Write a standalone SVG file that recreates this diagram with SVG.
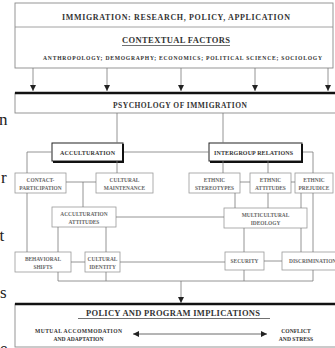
<svg xmlns="http://www.w3.org/2000/svg" width="335" height="348" viewBox="0 0 335 348">
<defs>
<style>
.t{font-family:"Liberation Serif","Times New Roman",serif;font-weight:bold;fill:#333;text-anchor:middle}
.s{font-family:"Liberation Serif","Times New Roman",serif;font-weight:bold;fill:#666;text-anchor:middle;font-size:5.4px}
.box{fill:#fff;stroke:#9a9a9a;stroke-width:0.8}
.big{fill:#fff;stroke:#8a8a8a;stroke-width:0.9}
.ln{fill:none;stroke:#7a7a7a;stroke-width:0.8}
.thick{stroke:#111;stroke-width:2.6}
.page{font-family:"Liberation Serif","Times New Roman",serif;font-size:17px;fill:#222}
</style>
<marker id="ah" viewBox="0 0 6 6" refX="6" refY="3" markerWidth="6" markerHeight="6" markerUnits="userSpaceOnUse" orient="auto">
<path d="M0,0 L6,3 L0,6 z" fill="#222"/>
</marker>
<marker id="ah2" viewBox="0 0 6 6" refX="0" refY="3" markerWidth="6" markerHeight="6" markerUnits="userSpaceOnUse" orient="auto">
<path d="M6,0 L0,3 L6,6 z" fill="#222"/>
</marker>
</defs>
<rect x="0" y="0" width="335" height="348" fill="#fff"/>

<g id="page-edge">
<text class="page" x="-1" y="125">n</text>
<text class="page" x="1" y="183">r</text>
<text class="page" x="-9" y="241">ut</text>
<text class="page" x="0" y="298">s</text>
<text class="page" x="0" y="354">e</text>
</g>

<g id="top-box">
<rect class="big" x="15" y="3" width="318" height="65"/>
<line x1="15" y1="27" x2="333" y2="27" stroke="#8a8a8a" stroke-width="0.8"/>
<text class="t" x="176" y="20" font-size="8" textLength="228" lengthAdjust="spacing">IMMIGRATION: RESEARCH, POLICY, APPLICATION</text>
<text class="t" x="176" y="43" font-size="8.5" textLength="108" lengthAdjust="spacing">CONTEXTUAL FACTORS</text>
<line x1="122" y1="45.5" x2="230" y2="45.5" stroke="#333" stroke-width="0.7"/>
<text class="t" x="182.5" y="60" font-size="5.6" textLength="279" lengthAdjust="spacing">ANTHROPOLOGY; DEMOGRAPHY; ECONOMICS; POLITICAL SCIENCE; SOCIOLOGY</text>
</g>

<g id="psychology">
<rect class="big" x="15" y="93" width="325" height="20"/>
<line class="thick" x1="15" y1="93" x2="335" y2="93"/>
<text class="t" x="180" y="108" font-size="7.5" textLength="134" lengthAdjust="spacing">PSYCHOLOGY OF IMMIGRATION</text>
</g>

<g id="acculturation">
<rect x="52" y="143" width="71" height="18" fill="#fff" stroke="#222" stroke-width="1"/>
<path d="M123,144 V162 H53" fill="none" stroke="#111" stroke-width="2"/>
<text class="t" x="87.5" y="154.5" font-size="6" textLength="55" lengthAdjust="spacing">ACCULTURATION</text>
</g>

<g id="intergroup">
<rect x="209" y="143" width="93" height="18" fill="#fff" stroke="#222" stroke-width="1"/>
<path d="M302,144 V162 H210" fill="none" stroke="#111" stroke-width="2"/>
<text class="t" x="253.5" y="154.5" font-size="6" textLength="79" lengthAdjust="spacing">INTERGROUP RELATIONS</text>
</g>

<g id="contact">
<rect class="box" x="15" y="173" width="51" height="20"/>
<text class="s" x="40.5" y="182">CONTACT-</text>
<text class="s" x="40.5" y="190">PARTICIPATION</text>
</g>
<g id="maintenance">
<rect class="box" x="96" y="173" width="57" height="20"/>
<text class="s" x="124.5" y="182">CULTURAL</text>
<text class="s" x="124.5" y="190">MAINTENANCE</text>
</g>
<g id="acc-attitudes">
<rect class="box" x="52" y="207" width="64" height="20"/>
<text class="s" x="84" y="216">ACCULTURATION</text>
<text class="s" x="84" y="224">ATTITUDES</text>
</g>
<g id="stereotypes">
<rect class="box" x="189" y="173" width="51" height="20"/>
<text class="s" x="214.5" y="182">ETHNIC</text>
<text class="s" x="214.5" y="190">STEREOTYPES</text>
</g>
<g id="ethnic-attitudes">
<rect class="box" x="250" y="173" width="41" height="20"/>
<text class="s" x="270.5" y="182">ETHNIC</text>
<text class="s" x="270.5" y="190">ATTITUDES</text>
</g>
<g id="prejudice">
<rect class="box" x="295" y="173" width="38" height="20"/>
<text class="s" x="314" y="182">ETHNIC</text>
<text class="s" x="314" y="190">PREJUDICE</text>
</g>
<g id="multicultural">
<rect class="box" x="224" y="208" width="83" height="20"/>
<text class="s" x="265.5" y="217">MULTICULTURAL</text>
<text class="s" x="265.5" y="225">IDEOLOGY</text>
</g>
<g id="behavioral">
<rect class="box" x="15" y="252" width="56" height="20"/>
<text class="s" x="43" y="261">BEHAVIORAL</text>
<text class="s" x="43" y="269">SHIFTS</text>
</g>
<g id="identity">
<rect class="box" x="85" y="252" width="35" height="20"/>
<text class="s" x="102.5" y="261">CULTURAL</text>
<text class="s" x="102.5" y="269">IDENTITY</text>
</g>
<g id="security">
<rect class="box" x="225" y="252" width="39" height="18"/>
<text class="s" x="244.5" y="263">SECURITY</text>
</g>
<g id="discrimination">
<rect class="box" x="282" y="252" width="63" height="18"/>
<text class="s" x="289" y="263" style="text-anchor:start">DISCRIMINATION</text>
</g>

<g id="policy">
<rect class="big" x="15" y="304" width="325" height="43"/>
<line class="thick" x1="15" y1="304" x2="335" y2="304"/>
<text class="t" x="173" y="316" font-size="8.5" textLength="174" lengthAdjust="spacing">POLICY AND PROGRAM IMPLICATIONS</text>
<line x1="78" y1="318.5" x2="270" y2="318.5" stroke="#333" stroke-width="0.7"/>
<text class="t" x="78.5" y="333" font-size="5.6" textLength="87" lengthAdjust="spacing">MUTUAL ACCOMMODATION</text>
<text class="t" x="78.5" y="340.5" font-size="5.6">AND ADAPTATION</text>
<text class="t" x="296" y="333" font-size="5.6">CONFLICT</text>
<text class="t" x="296" y="340.5" font-size="5.6">AND STRESS</text>
</g>

<g id="connectors">
<line class="ln" x1="33" y1="68" x2="33" y2="91" marker-end="url(#ah)"/>
<line class="ln" x1="107" y1="68" x2="107" y2="91" marker-end="url(#ah)"/>
<line class="ln" x1="181" y1="68" x2="181" y2="91" marker-end="url(#ah)"/>
<line class="ln" x1="255" y1="68" x2="255" y2="91" marker-end="url(#ah)"/>
<line class="ln" x1="328" y1="68" x2="328" y2="91" marker-end="url(#ah)"/>
<path class="ln" d="M117,113 V143 M117,161 V173 M124,152 H209 M52,152 H27 V173 M27,193 V252 M66,182 H96 M83,182 V207 M116,217 H224 M58,227 V252 M106,227 V252 M71,262 H85 M120,262 H225 M58,272 V281 M106,272 V281"/>
<path class="ln" d="M223,113 V143 M223,161 V173 M268,161 V173 M303,152 H313 V173 M240,182 H250 M291,182 H295 M235,193 V208 M268,193 V208 M301,193 V208 M313,193 V252 M244,228 V252 M301,228 V252 M264,261 H282 M244,270 V281 M313,270 V281 M58,281 H313"/>
<line class="ln" x1="181" y1="281" x2="181" y2="303" marker-end="url(#ah)"/>
<line class="ln" x1="133" y1="334" x2="267" y2="334" style="stroke:#444" marker-start="url(#ah2)" marker-end="url(#ah)"/>
</g>
</svg>
